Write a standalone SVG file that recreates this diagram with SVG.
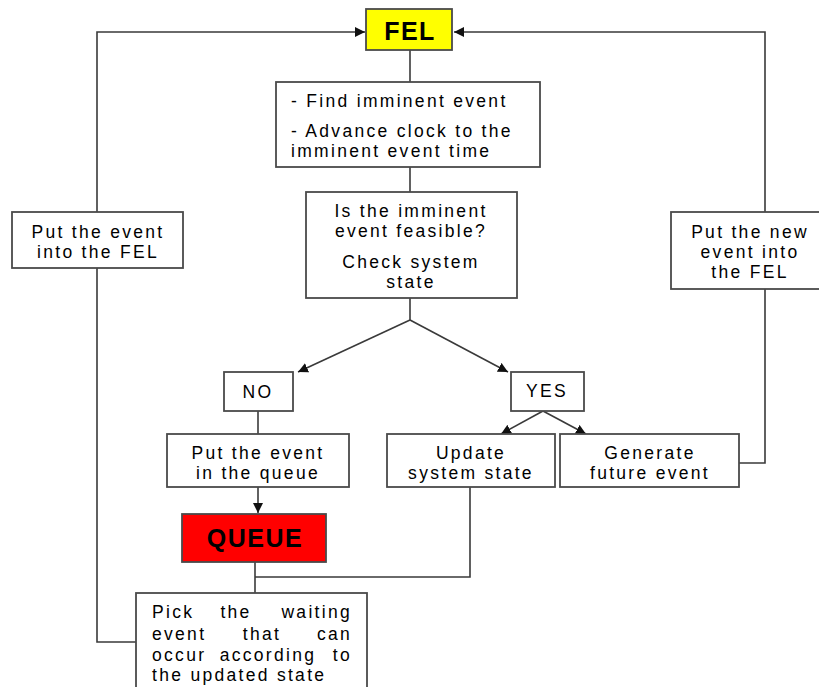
<svg xmlns="http://www.w3.org/2000/svg" width="819" height="687" viewBox="0 0 819 687">
  <style>
    .box { fill: #ffffff; stroke: #4a4a4a; stroke-width: 1.8; }
    .line { fill: none; stroke: #3a3a3a; stroke-width: 1.6; }
    .t { font-family: "Liberation Sans", Arial, sans-serif; font-size: 17.5px; fill: #000; letter-spacing: 2.3px; }
    .c { text-anchor: middle; }
    .e { text-anchor: end; }
    .big { font-family: "Liberation Sans", Arial, sans-serif; font-weight: bold; font-size: 25px; fill: #000; text-anchor: middle; letter-spacing: 1.5px; }
  </style>
  <defs>
    <marker id="arrow" viewBox="0 0 10 10" refX="10" refY="5" markerWidth="10" markerHeight="10" markerUnits="userSpaceOnUse" orient="auto">
      <path d="M0,0 L10,5 L0,10 Z" fill="#111"/>
    </marker>
  </defs>
  <rect width="819" height="687" fill="#ffffff"/>

  <g id="connectors">
    <!-- loop back from the pick step to the FEL -->
    <path class="line" d="M136,642 H97 V32 H365" marker-end="url(#arrow)"/>
    <!-- loop back from future event generation to the FEL -->
    <path class="line" d="M739,463 H765 V32 H454" marker-end="url(#arrow)"/>
    <line class="line" x1="410" y1="50" x2="410" y2="82"/>
    <line class="line" x1="410" y1="167" x2="410" y2="192"/>
    <line class="line" x1="410" y1="298" x2="410" y2="320"/>
    <path class="line" d="M410,320 L298,372" marker-end="url(#arrow)"/>
    <path class="line" d="M410,320 L508,372" marker-end="url(#arrow)"/>
    <line class="line" x1="258" y1="411" x2="258" y2="434"/>
    <path class="line" d="M543,411 L501,434" marker-end="url(#arrow)"/>
    <path class="line" d="M543,411 L586,434" marker-end="url(#arrow)"/>
    <path class="line" d="M258,487 V513" marker-end="url(#arrow)"/>
    <path class="line" d="M470,487 V577 H255"/>
    <line class="line" x1="255" y1="562" x2="255" y2="593"/>
  </g>

  <g id="fel">
    <rect x="366" y="9" width="86" height="41" fill="#ffff00" stroke="#4a4a4a" stroke-width="1.8"/>
    <text class="big" x="410" y="40" font-size="24">FEL</text>
  </g>

  <g id="find-imminent">
    <rect class="box" x="276" y="82" width="264" height="85"/>
    <text class="t" x="291" y="107">- Find imminent event</text>
    <text class="t" x="291" y="137">- Advance clock to the</text>
    <text class="t" x="291" y="157">imminent event time</text>
  </g>

  <g id="feasible-check">
    <rect class="box" x="306" y="192" width="211" height="106"/>
    <text class="t c" x="411" y="217">Is the imminent</text>
    <text class="t c" x="411" y="237">event feasible?</text>
    <text class="t c" x="411" y="268">Check system</text>
    <text class="t c" x="411" y="288">state</text>
  </g>

  <g id="put-into-fel">
    <rect class="box" x="12" y="212" width="171" height="56"/>
    <text class="t c" x="98" y="238">Put the event</text>
    <text class="t c" x="98" y="258">into the FEL</text>
  </g>

  <g id="put-new-into-fel">
    <rect class="box" x="671" y="212" width="150" height="77"/>
    <text class="t c" x="750" y="238">Put the new</text>
    <text class="t c" x="750" y="258">event into</text>
    <text class="t c" x="750" y="278">the FEL</text>
  </g>

  <g id="no">
    <rect class="box" x="224" y="372" width="69" height="39"/>
    <text class="t c" x="258" y="398">NO</text>
  </g>

  <g id="yes">
    <rect class="box" x="511" y="372" width="73" height="39"/>
    <text class="t c" x="547" y="397">YES</text>
  </g>

  <g id="put-in-queue">
    <rect class="box" x="167" y="434" width="182" height="53"/>
    <text class="t c" x="258" y="459">Put the event</text>
    <text class="t c" x="258" y="479">in the queue</text>
  </g>

  <g id="update-state">
    <rect class="box" x="387" y="434" width="168" height="53"/>
    <text class="t c" x="471" y="459">Update</text>
    <text class="t c" x="471" y="479">system state</text>
  </g>

  <g id="generate-event">
    <rect class="box" x="560" y="434" width="179" height="53"/>
    <text class="t c" x="650" y="459">Generate</text>
    <text class="t c" x="650" y="479">future event</text>
  </g>

  <g id="queue">
    <rect x="182" y="514" width="144" height="48" fill="#ff0000" stroke="#4a4a4a" stroke-width="1.8"/>
    <text class="big" x="255" y="547">QUEUE</text>
  </g>

  <g id="pick-waiting">
    <rect class="box" x="136" y="593" width="231" height="100"/>
    <text class="t" x="152" y="618">Pick</text>
    <text class="t c" x="236" y="618">the</text>
    <text class="t e" x="352" y="618">waiting</text>
    <text class="t" x="152" y="640">event</text>
    <text class="t c" x="262" y="640">that</text>
    <text class="t e" x="352" y="640">can</text>
    <text class="t" x="152" y="661">occur</text>
    <text class="t c" x="268" y="661">according</text>
    <text class="t e" x="352" y="661">to</text>
    <text class="t" x="152" y="681">the updated state</text>
  </g>
</svg>
